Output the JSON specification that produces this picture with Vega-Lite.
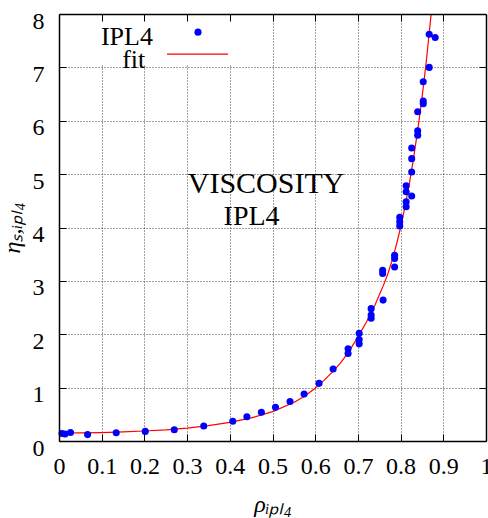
{
  "$schema": "https://vega.github.io/schema/vega-lite/v6.json",
  "width": 427,
  "height": 427,
  "autosize": {"type": "none"},
  "padding": {"left": 59, "top": 14, "right": 2, "bottom": 77},
  "background": "white",
  "config": {
    "view": {"stroke": null},
    "font": "Liberation Serif",
    "axis": {"labelFont": "Liberation Serif", "titleFont": "Liberation Serif"},
    "style": {"guide-label": {"font": "Liberation Serif"}, "guide-title": {"font": "Liberation Serif"}},
    "text": {"font": "Liberation Serif"}
  },
  "datasets": {
    "obs": [
      {"rho": 0.007, "eta": 0.14}, {"rho": 0.014, "eta": 0.13}, {"rho": 0.027, "eta": 0.16},
      {"rho": 0.067, "eta": 0.12}, {"rho": 0.134, "eta": 0.155}, {"rho": 0.202, "eta": 0.18},
      {"rho": 0.27, "eta": 0.21}, {"rho": 0.339, "eta": 0.28}, {"rho": 0.407, "eta": 0.37},
      {"rho": 0.44, "eta": 0.455}, {"rho": 0.474, "eta": 0.54}, {"rho": 0.507, "eta": 0.63},
      {"rho": 0.541, "eta": 0.74}, {"rho": 0.574, "eta": 0.88}, {"rho": 0.609, "eta": 1.08},
      {"rho": 0.642, "eta": 1.35}, {"rho": 0.677, "eta": 1.64}, {"rho": 0.677, "eta": 1.73},
      {"rho": 0.703, "eta": 1.82}, {"rho": 0.703, "eta": 1.9}, {"rho": 0.703, "eta": 2.02},
      {"rho": 0.731, "eta": 2.3}, {"rho": 0.731, "eta": 2.36}, {"rho": 0.731, "eta": 2.48},
      {"rho": 0.759, "eta": 2.64}, {"rho": 0.758, "eta": 3.14}, {"rho": 0.758, "eta": 3.2},
      {"rho": 0.786, "eta": 3.26}, {"rho": 0.786, "eta": 3.42}, {"rho": 0.786, "eta": 3.48},
      {"rho": 0.798, "eta": 4.03}, {"rho": 0.798, "eta": 4.11}, {"rho": 0.798, "eta": 4.19},
      {"rho": 0.813, "eta": 4.39}, {"rho": 0.813, "eta": 4.48}, {"rho": 0.813, "eta": 4.67},
      {"rho": 0.813, "eta": 4.78}, {"rho": 0.826, "eta": 4.59}, {"rho": 0.826, "eta": 5.04},
      {"rho": 0.826, "eta": 5.29}, {"rho": 0.826, "eta": 5.49}, {"rho": 0.84, "eta": 5.73},
      {"rho": 0.84, "eta": 5.81}, {"rho": 0.84, "eta": 6.17}, {"rho": 0.853, "eta": 6.32},
      {"rho": 0.853, "eta": 6.37}, {"rho": 0.853, "eta": 6.73}, {"rho": 0.867, "eta": 7.0},
      {"rho": 0.867, "eta": 7.62}, {"rho": 0.881, "eta": 7.56}
    ],
    "fit": [
      {"rho": 0, "eta": 0.15}, {"rho": 0.05, "eta": 0.152}, {"rho": 0.1, "eta": 0.158},
      {"rho": 0.15, "eta": 0.17}, {"rho": 0.2, "eta": 0.187}, {"rho": 0.25, "eta": 0.21},
      {"rho": 0.3, "eta": 0.242}, {"rho": 0.35, "eta": 0.287}, {"rho": 0.4, "eta": 0.348},
      {"rho": 0.45, "eta": 0.432}, {"rho": 0.5, "eta": 0.55}, {"rho": 0.55, "eta": 0.72},
      {"rho": 0.575, "eta": 0.84}, {"rho": 0.6, "eta": 0.99}, {"rho": 0.62, "eta": 1.13},
      {"rho": 0.64, "eta": 1.29}, {"rho": 0.66, "eta": 1.47}, {"rho": 0.68, "eta": 1.69},
      {"rho": 0.7, "eta": 1.95}, {"rho": 0.72, "eta": 2.23}, {"rho": 0.74, "eta": 2.55},
      {"rho": 0.76, "eta": 2.92}, {"rho": 0.77, "eta": 3.13}, {"rho": 0.78, "eta": 3.38},
      {"rho": 0.79, "eta": 3.67}, {"rho": 0.8, "eta": 4.0}, {"rho": 0.81, "eta": 4.38},
      {"rho": 0.82, "eta": 4.8}, {"rho": 0.83, "eta": 5.28}, {"rho": 0.84, "eta": 5.82},
      {"rho": 0.85, "eta": 6.42}, {"rho": 0.86, "eta": 7.1}, {"rho": 0.87, "eta": 7.88},
      {"rho": 0.88, "eta": 8.75}
    ]
  },
  "resolve": {"axis": {"x": "independent", "y": "independent"}},
  "layer": [
    {
      "data": {"values": [{}]},
      "mark": {"type": "rect", "color": "white"},
      "encoding": {
        "x": {"datum": 0, "type": "quantitative", "scale": {"domain": [0, 1], "nice": false, "zero": false}, "axis": null},
        "x2": {"datum": 0.45},
        "y": {"datum": 7.04, "type": "quantitative", "scale": {"domain": [0, 8], "nice": false, "zero": false}, "axis": null},
        "y2": {"datum": 8}
      }
    },
    {
      "data": {"name": "fit"},
      "mark": {"type": "line", "color": "#ff0000", "strokeWidth": 1.2, "clip": true},
      "encoding": {
        "x": {"field": "rho", "type": "quantitative", "scale": {"domain": [0, 1], "nice": false, "zero": false},
          "axis": {"orient": "bottom", "grid": true, "gridColor": "#000", "gridDash": [1, 2], "gridOpacity": 0.75, "gridWidth": 1,
            "labels": false, "ticks": false, "domain": false, "title": null, "zindex": 0,
            "values": [0.1, 0.2, 0.3, 0.4, 0.5, 0.6, 0.7, 0.8, 0.9]}},
        "y": {"field": "eta", "type": "quantitative", "scale": {"domain": [0, 8], "nice": false, "zero": false},
          "axis": {"orient": "left", "grid": true, "gridColor": "#000", "gridDash": [1, 2], "gridOpacity": 0.75, "gridWidth": 1,
            "labels": false, "ticks": false, "domain": false, "title": null, "zindex": 0,
            "values": [1, 2, 3, 4, 5, 6, 7]}}
      }
    },
    {
      "data": {"name": "obs"},
      "mark": {"type": "point", "filled": true, "color": "#0000ff", "size": 50, "opacity": 1, "shape": "circle"},
      "encoding": {
        "x": {"field": "rho", "type": "quantitative", "scale": {"domain": [0, 1], "nice": false, "zero": false},
          "axis": {"orient": "bottom", "grid": false, "values": [0, 0.1, 0.2, 0.3, 0.4, 0.5, 0.6, 0.7, 0.8, 0.9, 1], "format": "~g",
            "labelFont": "Liberation Serif", "labelFontSize": 24, "labelColor": "#000", "labelPadding": 20,
            "labelFlush": false, "labelOverlap": false, "labelBound": false,
            "ticks": true, "tickSize": -7, "tickColor": "#000", "tickWidth": 1,
            "domain": true, "domainColor": "#000", "domainWidth": 1.5,
            "title": "ρᵢₚₗ₄", "titleFont": "Liberation Serif", "titleFontStyle": "italic", "titleFontWeight": "normal",
            "titleFontSize": 24, "titleColor": "#000", "titlePadding": 14, "zindex": 1}},
        "y": {"field": "eta", "type": "quantitative", "scale": {"domain": [0, 8], "nice": false, "zero": false},
          "axis": {"orient": "left", "grid": false, "values": [0, 1, 2, 3, 4, 5, 6, 7, 8], "format": "d",
            "labelFont": "Liberation Serif", "labelFontSize": 24, "labelColor": "#000", "labelPadding": 22, "labelOffset": 7,
            "labelFlush": false, "labelOverlap": false, "labelBound": false,
            "ticks": true, "tickSize": -7, "tickColor": "#000", "tickWidth": 1,
            "domain": true, "domainColor": "#000", "domainWidth": 1.5,
            "title": "ηₛ,ᵢₚₗ₄", "titleFont": "Liberation Serif", "titleFontStyle": "italic", "titleFontWeight": "normal",
            "titleFontSize": 24, "titleColor": "#000", "titlePadding": 8, "zindex": 1}}
      }
    },
    {
      "data": {"values": [{}]},
      "mark": {"type": "text", "text": "VISCOSITY", "font": "Liberation Serif", "fontSize": 30, "color": "#000", "align": "center", "baseline": "alphabetic"},
      "encoding": {
        "x": {"datum": 0.485, "type": "quantitative", "scale": {"domain": [0, 1], "nice": false, "zero": false},
          "axis": {"orient": "top", "grid": false, "labels": false, "values": [0.1, 0.2, 0.3, 0.4, 0.5, 0.6, 0.7, 0.8, 0.9],
            "ticks": true, "tickSize": -7, "tickColor": "#000", "tickWidth": 1,
            "domain": true, "domainColor": "#000", "domainWidth": 1.5, "title": null, "zindex": 1}},
        "y": {"datum": 4.64, "type": "quantitative", "scale": {"domain": [0, 8], "nice": false, "zero": false},
          "axis": {"orient": "right", "grid": false, "labels": false, "values": [1, 2, 3, 4, 5, 6, 7],
            "ticks": true, "tickSize": -7, "tickColor": "#000", "tickWidth": 1,
            "domain": true, "domainColor": "#000", "domainWidth": 1.5, "title": null, "zindex": 1}}
      }
    },
    {
      "data": {"values": [{}]},
      "mark": {"type": "text", "text": "IPL4", "font": "Liberation Serif", "fontSize": 28, "color": "#000", "align": "center", "baseline": "alphabetic"},
      "encoding": {
        "x": {"datum": 0.451, "type": "quantitative", "axis": null},
        "y": {"datum": 4.045, "type": "quantitative", "axis": null}
      }
    },
    {
      "data": {"values": [{}]},
      "mark": {"type": "text", "text": "IPL4", "font": "Liberation Serif", "fontSize": 26, "color": "#000", "align": "right", "baseline": "alphabetic"},
      "encoding": {
        "x": {"datum": 0.22, "type": "quantitative", "axis": null},
        "y": {"datum": 7.42, "type": "quantitative", "axis": null}
      }
    },
    {
      "data": {"values": [{}]},
      "mark": {"type": "text", "text": "fit", "font": "Liberation Serif", "fontSize": 26, "color": "#000", "align": "right", "baseline": "alphabetic"},
      "encoding": {
        "x": {"datum": 0.202, "type": "quantitative", "axis": null},
        "y": {"datum": 6.99, "type": "quantitative", "axis": null}
      }
    },
    {
      "data": {"values": [{}]},
      "mark": {"type": "point", "filled": true, "color": "#0000ff", "size": 50, "opacity": 1, "shape": "circle"},
      "encoding": {
        "x": {"datum": 0.3255, "type": "quantitative", "axis": null},
        "y": {"datum": 7.66, "type": "quantitative", "axis": null}
      }
    },
    {
      "data": {"values": [{}]},
      "mark": {"type": "rule", "color": "#ff0000", "strokeWidth": 1.2},
      "encoding": {
        "x": {"datum": 0.253, "type": "quantitative", "axis": null},
        "x2": {"datum": 0.396},
        "y": {"datum": 7.25, "type": "quantitative", "axis": null}
      }
    }
  ]
}
